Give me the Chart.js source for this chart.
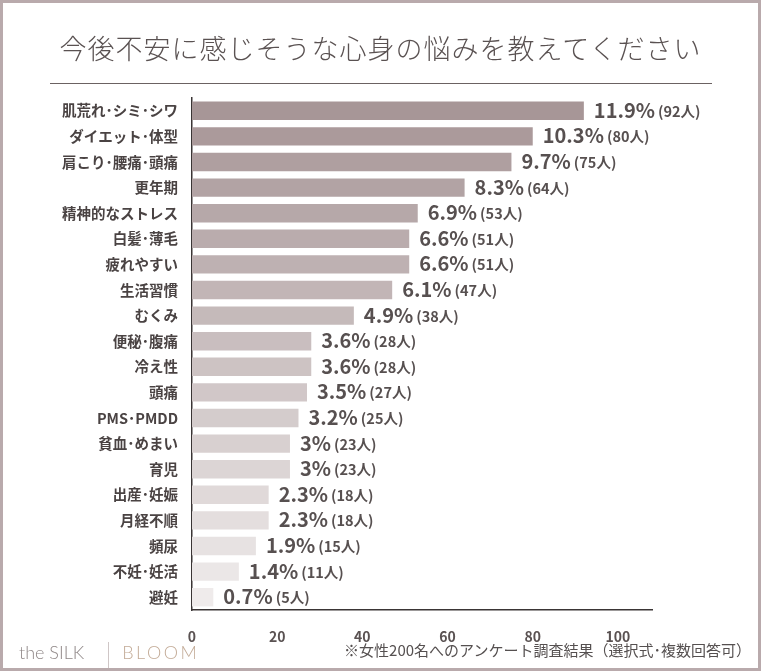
<!DOCTYPE html>
<html lang="ja">
<head>
<meta charset="UTF-8">
<title>今後不安に感じそうな心身の悩み</title>
<script src="https://cdn.jsdelivr.net/npm/chart.js"></script>
<style>
    body {
        margin: 0;
        background: #fff;
        font-family: "Noto Sans CJK JP", sans-serif;
    }
    #wrap {
        position: relative;
        width: 761px;
        height: 671px;
        overflow: hidden;
    }
    #wrap canvas {
        position: absolute;
        left: 0;
        top: 0;
    }
    #frame {
        position: absolute;
        inset: 0;
        border: 3px solid #b9aaac;
        pointer-events: none;
    }
    h1 {
        position: absolute;
        top: 28px;
        left: 0;
        width: 761px;
        margin: 0;
        text-align: center;
        font-size: 27px;
        font-weight: 300;
        letter-spacing: 1px;
        color: #5a5252;
        line-height: 40px;
    }
    #rule {
        position: absolute;
        left: 50px;
        top: 83px;
        width: 662px;
        height: 1px;
        background: #6b6262;
    }
    #brand {
        position: absolute;
        left: 19px;
        top: 639px;
        font-size: 18px;
        font-weight: 300;
        line-height: 26px;
        font-family: "Lato", "Noto Sans", sans-serif;
    }
    #brand .the { color: #8f8787; }
    #brand .sep {
        display: inline-block;
        width: 1px;
        height: 26px;
        background: #cfc6c6;
        vertical-align: middle;
        margin: 0 13px 0 24px;
    }
    #brand .bloom { color: #c3ab97; letter-spacing: 2.5px; }
    #note {
        position: absolute;
        right: 10px;
        top: 640px;
        font-size: 15px;
        line-height: 20px;
        color: #555050;
    }
</style>
</head>
<body>
<div id="wrap">
    <canvas id="chart" width="761" height="671"></canvas>
    <h1>今後不安に感じそうな心身の悩みを教えてください</h1>
    <div id="rule"></div>
    <div id="brand"><span class="the">the SILK</span><span class="sep"></span><span class="bloom">BLOOM</span></div>
    <div id="note">※女性200名へのアンケート調査結果（選択式･複数回答可）</div>
    <div id="frame"></div>
</div>

<script>
    // 項目
    const labels = [
        '肌荒れ･シミ･シワ', 'ダイエット･体型', '肩こり･腰痛･頭痛', '更年期', '精神的なストレス',
        '白髪･薄毛', '疲れやすい', '生活習慣', 'むくみ', '便秘･腹痛',
        '冷え性', '頭痛', 'PMS･PMDD', '貧血･めまい', '育児',
        '出産･妊娠', '月経不順', '頻尿', '不妊･妊活', '避妊'
    ];
    // 人数
    const counts = [92, 80, 75, 64, 53, 51, 51, 47, 38, 28, 28, 27, 25, 23, 23, 18, 18, 15, 11, 5];
    // 割合（%）
    const percents = ['11.9', '10.3', '9.7', '8.3', '6.9', '6.6', '6.6', '6.1', '4.9', '3.6',
        '3.6', '3.5', '3.2', '3', '3', '2.3', '2.3', '1.9', '1.4', '0.7'];
    const xTicks = [0, 20, 40, 60, 80, 100];

    // 上から下へ薄くなる色
    const dark = [167, 150, 151];
    const light = [239, 235, 235];
    const barColors = labels.map((_, i) => {
        const t = i / (labels.length - 1);
        const c = dark.map((d, k) => Math.round(d + (light[k] - d) * t));
        return `rgb(${c[0]}, ${c[1]}, ${c[2]})`;
    });

    // バーの右側に「11.9%(92人)」を描く
    const valueLabels = {
        id: 'valueLabels',
        afterDatasetsDraw(chart) {
            const ctx = chart.ctx;
            const meta = chart.getDatasetMeta(0);
            ctx.save();
            ctx.fillStyle = '#575050';
            ctx.textBaseline = 'alphabetic';
            meta.data.forEach((bar, i) => {
                let x = bar.x + 10;
                const y = bar.y + 7;
                ctx.font = 'bold 20px "Noto Sans CJK JP"';
                const pct = percents[i] + '%';
                ctx.fillText(pct, x, y);
                x += ctx.measureText(pct).width + 3;
                ctx.font = 'bold 14.5px "Noto Sans CJK JP"';
                ctx.fillText('(' + counts[i] + '人)', x, y - 1);
            });
            ctx.restore();
        }
    };

    const ctx = document.getElementById('chart').getContext('2d');
    const chart = new Chart(ctx, {
        type: 'bar',
        data: {
            labels: labels,
            datasets: [{
                data: counts,
                backgroundColor: barColors,
                borderWidth: 0,
                barPercentage: 0.72,
                categoryPercentage: 1
            }]
        },
        options: {
            indexAxis: 'y',
            responsive: false,
            animation: false,
            layout: {
                padding: { top: 98, left: 0, right: 109, bottom: 26 }
            },
            plugins: {
                legend: { display: false },
                tooltip: { enabled: false }
            },
            scales: {
                x: {
                    min: 0,
                    max: 108,
                    afterBuildTicks: scale => {
                        scale.ticks = xTicks.map(v => ({ value: v }));
                    },
                    afterFit: scale => { scale.height = 35; },
                    grid: { display: false },
                    border: { display: true, color: '#3a3535', width: 1.5 },
                    ticks: {
                        padding: 10,
                        color: '#5a5252',
                        font: { family: '"Noto Sans CJK JP"', size: 14, weight: 'bold' }
                    }
                },
                y: {
                    afterFit: scale => { scale.width = 192; },
                    grid: { display: false },
                    border: { display: true, color: '#3a3535', width: 1.5 },
                    ticks: {
                        padding: 6,
                        color: '#4a4343',
                        font: { family: '"Noto Sans CJK JP"', size: 14.5, weight: 'bold' }
                    }
                }
            }
        },
        plugins: [valueLabels]
    });
</script>
</body>
</html>
